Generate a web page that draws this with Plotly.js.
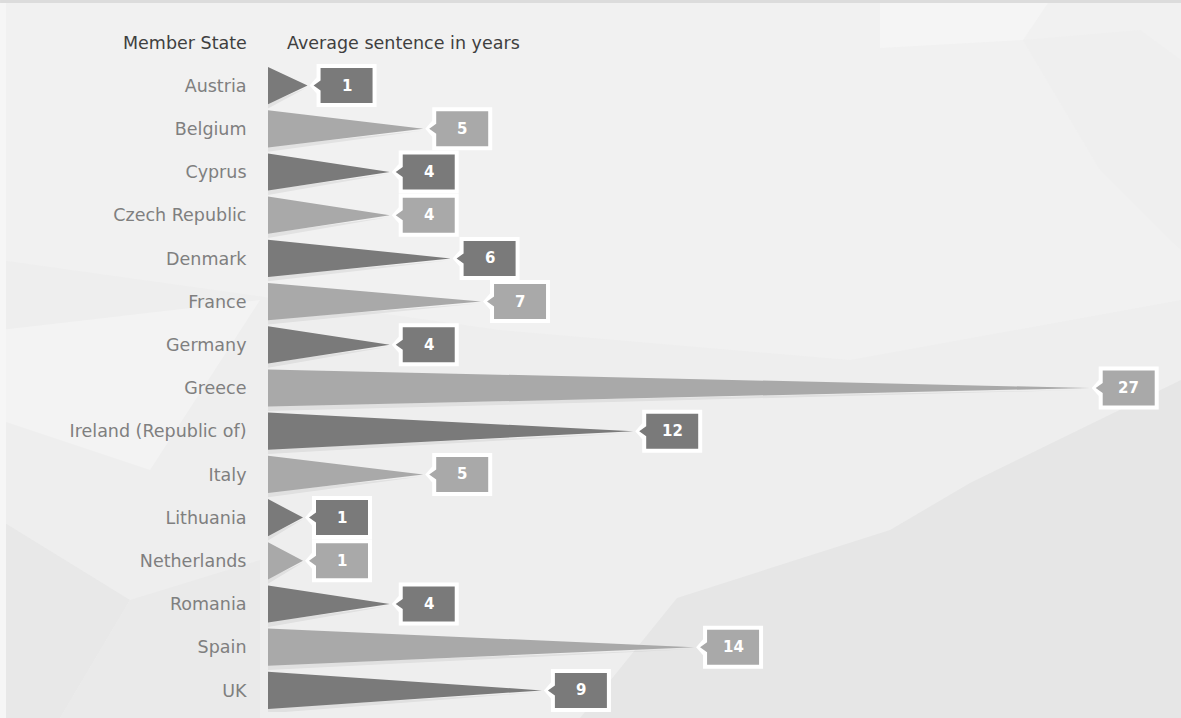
<!DOCTYPE html>
<html>
<head>
<meta charset="utf-8">
<script src="https://cdn.plot.ly/plotly-3.0.1.min.js"></script>
<style>html,body{margin:0;padding:0;background:#eeeeee;}#chart{width:1181px;height:718px;}</style>
</head>
<body>
<div id="chart"></div>
<script>
// ---- data ----
const states = ["Austria","Belgium","Cyprus","Czech Republic","Denmark","France","Germany","Greece","Ireland (Republic of)","Italy","Lithuania","Netherlands","Romania","Spain","UK"];
const sentenceYears = [1.3, 5.1, 4, 4, 6, 7, 4, 27, 12, 5.1, 1.15, 1.15, 4, 14, 9];
const labelValues = [1, 5, 4, 4, 6, 7, 4, 27, 12, 5, 1, 1, 4, 14, 9];
const headerLeft = "Member State";
const headerRight = "Average sentence in years";

// ---- styling / geometry ----
const W = 1181, H = 718;
const M = {l: 268, r: 0, t: 64, b: 6};
const plotW = W - M.l - M.r, plotH = H - M.t - M.b;
const xMax = 30;
const DARK = "#7a7a7a", LIGHT = "#a9a9a9";
const halfH = 0.43;
const FONT = "DejaVu Sans, sans-serif";
const colorOf = i => (i % 2 === 0 ? DARK : LIGHT);

function px2paperX(px){ return (px - M.l) / plotW; }
function px2paperY(py){ return (H - M.b - py) / plotH; }

const traces = [];
// soft shadows beneath triangles
const shX = [], shY = [];
states.forEach((s, i) => {
  shX.push(0, sentenceYears[i], 0, null);
  shY.push(i + halfH - 0.02, i + 0.04, i + halfH + 0.1, null);
});
traces.push({type:"scatter", mode:"lines", x:shX, y:shY, fill:"toself",
  fillcolor:"rgba(0,0,0,0.06)", line:{width:0}, hoverinfo:"skip", showlegend:false});
// triangles, alternating colors
[0,1].forEach(parity => {
  const xs = [], ys = [];
  states.forEach((s, i) => {
    if (i % 2 !== parity) return;
    xs.push(0, sentenceYears[i], 0, null);
    ys.push(i - halfH, i, i + halfH, null);
  });
  traces.push({type:"scatter", mode:"lines", x:xs, y:ys, fill:"toself",
    fillcolor: parity === 0 ? DARK : LIGHT, line:{width:0}, hoverinfo:"skip", showlegend:false});
});

// decorative low-poly background
function poly(pts, color){
  const path = pts.map((p, k) => (k===0?"M":"L") + px2paperX(p[0]).toFixed(4) + "," + px2paperY(p[1]).toFixed(4)).join(" ") + " Z";
  return {type:"path", xref:"paper", yref:"paper", path, fillcolor:color, line:{width:0}, layer:"below"};
}
const shapes = [
  poly([[0,0],[1181,0],[1181,718],[0,718]], "#eeeeee"),
  poly([[0,0],[1181,0],[1181,300],[850,360],[500,330],[0,260]], "#f1f1f1"),
  poly([[880,3],[1048,3],[1023,40],[880,48]], "#f5f5f5"),
  poly([[1023,40],[1140,30],[1181,60],[1181,250],[1100,170]], "#efefef"),
  poly([[0,330],[260,300],[150,470],[0,420]], "#f3f3f3"),
  poly([[677,598],[890,530],[970,483],[1181,380],[1181,718],[580,718]], "#e6e6e6"),
  poly([[0,520],[130,600],[60,718],[0,718]], "#e8e8e8"),
  poly([[130,600],[260,560],[260,718],[60,718]], "#eaeaea"),
  poly([[0,0],[1181,0],[1181,3],[0,3]], "#dcdcdc"),
  poly([[0,3],[6,3],[6,718],[0,718]], "#f6f6f6")
];

// label callouts: pixel-sized shapes anchored at each bar's tip (data x, data y)
const OUTER = "M9,-21.5 L69,-21.5 L69,21.5 L9,21.5 L9,8 L2,0 L9,-8 Z";
const INNER = "M13,-17.5 L65,-17.5 L65,17.5 L13,17.5 L13,5 L6,0 L13,-5 Z";
states.forEach((s, i) => {
  const base = {type:"path", xref:"x", yref:"y", xsizemode:"pixel", ysizemode:"pixel",
    xanchor: sentenceYears[i], yanchor: i, layer:"above", line:{width:0}};
  shapes.push(Object.assign({}, base, {path: OUTER, fillcolor:"#ffffff"}));
  shapes.push(Object.assign({}, base, {path: INNER, fillcolor: colorOf(i)}));
});

const annotations = [];
states.forEach((s, i) => {
  annotations.push({x: sentenceYears[i], y: i, xref:"x", yref:"y", xanchor:"center", yanchor:"middle",
    xshift: 39, showarrow:false, text: String(labelValues[i]),
    font:{family:FONT, size:15, color:"#ffffff", weight:"bold"}});
});
annotations.push({xref:"paper", yref:"paper", x: px2paperX(249), y: px2paperY(43), xanchor:"right", yanchor:"middle",
  showarrow:false, text: headerLeft, font:{family:FONT, size:17.5, color:"#3f3f3f"}});
annotations.push({xref:"paper", yref:"paper", x: px2paperX(285), y: px2paperY(43), xanchor:"left", yanchor:"middle",
  showarrow:false, text: headerRight, font:{family:FONT, size:17.5, color:"#3f3f3f"}});

const layout = {
  width: W, height: H, margin: M,
  paper_bgcolor:"#eeeeee", plot_bgcolor:"rgba(0,0,0,0)",
  showlegend:false,
  xaxis:{range:[0, xMax], visible:false, fixedrange:true},
  yaxis:{range:[states.length - 0.5, -0.5], tickvals: states.map((s,i)=>i), ticktext: states,
    showgrid:false, zeroline:false, showline:false, ticks:"outside", ticklen:17, tickcolor:"rgba(0,0,0,0)",
    tickfont:{family:FONT, size:17.5, color:"#7f7f7f"}, fixedrange:true},
  annotations, shapes
};
Plotly.newPlot("chart", traces, layout, {displayModeBar:false, staticPlot:true});
</script>
</body>
</html>
